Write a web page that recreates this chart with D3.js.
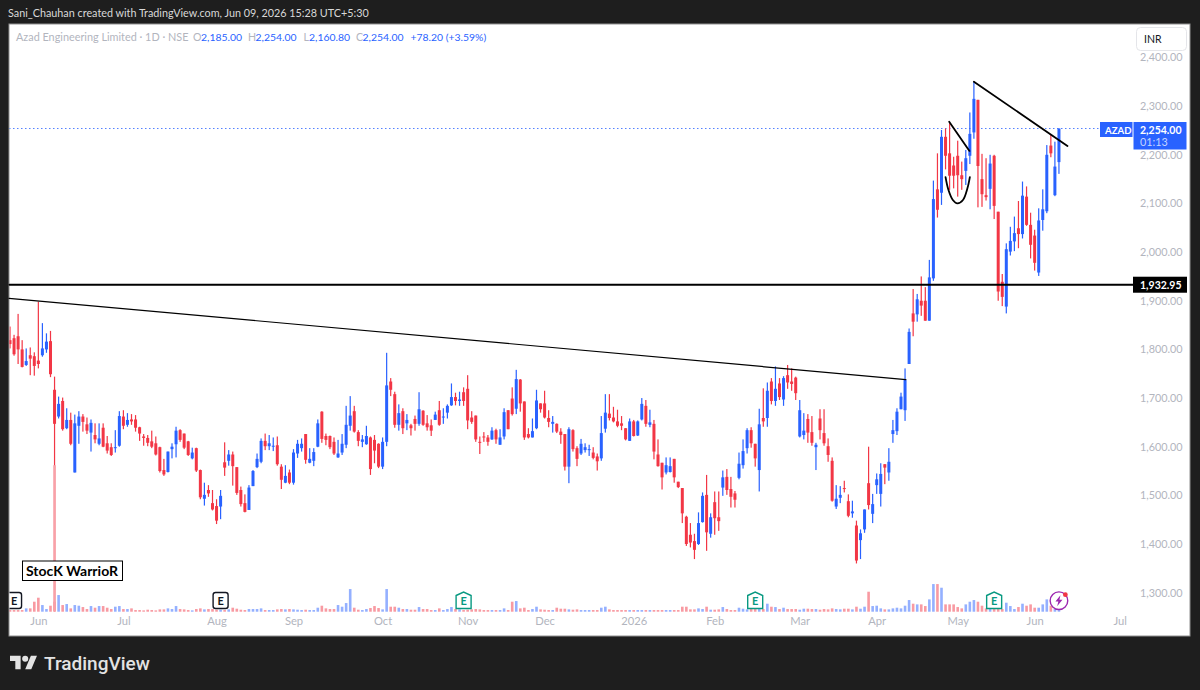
<!DOCTYPE html>
<html>
<head>
<meta charset="utf-8">
<title>AZAD daily candles</title>
<script src="https://cdn.jsdelivr.net/npm/d3@7"></script>
<style>
  html, body { margin: 0; padding: 0; background: #1e1e1e; }
  svg { display: block; }
  text { font-family: Lato, sans-serif; }
</style>
</head>
<body>
<svg id="chart" width="1200" height="690"></svg>
<script>
// Daily OHLC for Azad Engineering (NSE), oldest first
const opens = [
  1819,1823,1827,1800,1768,1788,1786,1777,1788,1800,
  1817,1717,1662,1694,1638,1655,1547,1643,1662,1646,
  1629,1624,1606,1639,1607,1599,1597,1602,1662,1645,
  1656,1656,1640,1621,1618,1611,1607,1599,1552,1548,
  1595,1605,1634,1627,1611,1576,1597,1552,1493,1511,
  1484,1478,1477,1568,1571,1584,1558,1511,1484,1470,
  1519,1558,1569,1612,1601,1600,1603,1559,1526,1547,
  1526,1586,1597,1626,1567,1571,1600,1672,1622,1622,
  1610,1578,1588,1604,1643,1673,1630,1610,1605,1619,
  1614,1606,1559,1610,1734,1708,1645,1673,1648,1644,
  1657,1647,1674,1648,1644,1655,1675,1661,1670,1685,
  1702,1694,1712,1719,1660,1664,1610,1621,1619,1615,
  1634,1604,1621,1675,1699,1678,1738,1693,1626,1619,
  1638,1689,1689,1659,1647,1647,1631,1626,1559,1634,
  1597,1586,1593,1594,1588,1580,1576,1637,1668,1660,
  1652,1648,1638,1612,1652,1623,1656,1684,1645,1647,
  1584,1567,1547,1548,1575,1528,1515,1456,1419,1406,
  1400,1445,1501,1421,1486,1455,1516,1538,1513,1504,
  1536,1562,1597,1634,1606,1552,1659,1659,1734,1694,
  1730,1697,1747,1734,1742,1621,1624,1657,1630,1599,
  1658,1628,1601,1571,1477,1495,1515,1488,1463,1438,
  1408,1430,1525,1462,1521,1503,1564,1547,1626,1632,
  1677,1675,1770,1874,1872,1900,1900,1859,1946,2129,
  2122,2237,2203,2178,2198,2158,2167,2198,2246,2313,
  2150,2117,2130,2198,2083,1939,1888,2001,2022,2049,
  2037,2114,2056,2034,1958,2066,2084,2219,2117,2185
];
const highs = [
  1847,1830,1873,1819,1802,1804,1794,1898,1854,1833,
  1838,1744,1703,1701,1679,1670,1666,1673,1667,1660,
  1656,1648,1648,1648,1622,1607,1634,1673,1675,1669,
  1667,1665,1641,1626,1624,1633,1621,1600,1575,1590,
  1607,1641,1636,1627,1612,1598,1598,1553,1526,1521,
  1511,1492,1511,1609,1593,1590,1558,1518,1502,1521,
  1552,1586,1617,1627,1624,1619,1621,1564,1562,1553,
  1595,1614,1617,1626,1597,1597,1656,1673,1627,1623,
  1619,1614,1626,1684,1704,1684,1634,1624,1643,1621,
  1624,1607,1619,1793,1741,1713,1687,1679,1667,1647,
  1664,1712,1675,1665,1656,1672,1694,1679,1687,1730,
  1711,1713,1722,1747,1673,1664,1621,1630,1624,1640,
  1637,1636,1679,1675,1722,1758,1739,1693,1638,1658,
  1717,1689,1715,1675,1663,1648,1638,1626,1640,1636,
  1601,1616,1607,1604,1599,1586,1663,1708,1708,1682,
  1676,1663,1638,1658,1655,1654,1700,1696,1676,1655,
  1615,1567,1578,1578,1575,1528,1515,1458,1443,1421,
  1465,1506,1542,1463,1508,1508,1551,1554,1538,1509,
  1588,1615,1638,1640,1606,1678,1720,1732,1741,1765,
  1741,1745,1768,1761,1744,1696,1669,1667,1663,1608,
  1677,1677,1617,1578,1521,1519,1530,1502,1489,1448,
  1430,1471,1600,1503,1545,1566,1564,1597,1655,1679,
  1711,1761,1843,1924,1914,1950,1928,1984,2147,2203,
  2251,2254,2265,2196,2229,2186,2210,2287,2350,2313,
  2202,2193,2200,2200,2083,1955,2018,2052,2073,2105,
  2145,2135,2081,2046,2090,2129,2220,2241,2227,2254
];
const lows = [
  1802,1787,1770,1763,1766,1747,1746,1761,1785,1793,
  1743,1262,1658,1633,1636,1603,1547,1606,1631,1626,
  1590,1607,1603,1599,1586,1581,1588,1600,1636,1641,
  1645,1631,1612,1602,1601,1597,1582,1547,1540,1547,
  1576,1578,1610,1595,1581,1574,1548,1492,1479,1497,
  1469,1441,1451,1540,1561,1520,1501,1477,1465,1470,
  1519,1556,1566,1593,1593,1591,1561,1513,1525,1523,
  1522,1577,1590,1565,1566,1560,1599,1608,1603,1595,
  1583,1577,1583,1597,1633,1629,1601,1599,1604,1542,
  1566,1556,1554,1601,1704,1639,1633,1626,1634,1623,
  1633,1643,1643,1633,1622,1655,1643,1647,1658,1684,
  1685,1684,1684,1636,1647,1610,1585,1610,1602,1614,
  1606,1604,1615,1636,1664,1667,1672,1614,1617,1619,
  1636,1670,1658,1640,1629,1628,1606,1551,1525,1590,
  1560,1583,1588,1581,1574,1551,1571,1629,1654,1650,
  1640,1634,1613,1612,1621,1622,1654,1641,1640,1574,
  1559,1512,1543,1547,1526,1515,1443,1396,1393,1369,
  1398,1444,1386,1413,1419,1427,1499,1501,1475,1475,
  1533,1555,1586,1598,1559,1508,1641,1641,1687,1684,
  1696,1684,1719,1715,1696,1619,1615,1608,1602,1552,
  1615,1602,1569,1487,1472,1484,1506,1455,1454,1360,
  1369,1423,1471,1443,1503,1477,1523,1530,1608,1624,
  1677,1653,1770,1827,1857,1869,1859,1859,1941,2071,
  2097,2170,2128,2131,2114,2128,2138,2181,2233,2092,
  2093,2106,2088,2068,1900,1889,1874,1993,2002,2008,
  2028,2054,1987,1962,1951,2044,2080,2195,2115,2160.8
];
const closes = [
  1811,1790,1800,1764,1776,1781,1766,1770,1802,1816,
  1749,1647,1688,1636,1655,1606,1648,1662,1651,1633,
  1649,1615,1617,1600,1592,1583,1599,1663,1643,1655,
  1652,1639,1627,1618,1608,1600,1584,1550,1543,1590,
  1600,1633,1614,1598,1583,1588,1551,1496,1501,1504,
  1471,1448,1499,1557,1584,1560,1505,1482,1466,1516,
  1550,1575,1612,1601,1607,1602,1564,1532,1540,1526,
  1588,1606,1606,1573,1575,1589,1648,1616,1614,1599,
  1586,1586,1606,1645,1664,1631,1612,1615,1622,1554,
  1592,1559,1610,1726,1717,1645,1669,1638,1655,1638,
  1647,1677,1645,1640,1633,1666,1645,1662,1684,1702,
  1694,1697,1694,1654,1651,1615,1608,1619,1610,1633,
  1615,1619,1671,1636,1667,1739,1689,1619,1619,1632,
  1695,1677,1660,1651,1651,1631,1624,1559,1636,1595,
  1575,1606,1599,1595,1577,1570,1628,1670,1659,1652,
  1643,1643,1615,1652,1622,1652,1688,1647,1650,1590,
  1560,1537,1562,1560,1537,1517,1463,1400,1403,1388,
  1443,1499,1424,1455,1453,1447,1537,1511,1497,1491,
  1565,1591,1634,1607,1576,1646,1652,1715,1694,1719,
  1702,1741,1732,1729,1710,1675,1633,1629,1608,1604,
  1634,1607,1583,1489,1493,1501,1514,1458,1467,1366,
  1422,1471,1480,1482,1533,1544,1557,1569,1634,1672,
  1703,1738,1836,1857,1903,1890,1859,1948,2109,2087,
  2237,2198,2157,2157,2158,2150,2193,2243,2315,2177,
  2119,2113,2182,2095,1919,1908,2006,2023,2039,2037,
  2116,2056,2015,1978,2065,2088,2200,2203,2175.8,2254
];
// Relative traded volume per session
const volumes = [
  5,5,5,5,10,10,30,42,20,8,
  18,30,50,20,23,10,20,18,14,8,
  17,12,17,17,12,8,15,17,8,8,
  10,5,5,4,6,5,4,7,7,10,
  8,17,8,7,5,4,8,10,7,8,
  8,6,6,5,7,12,9,6,5,8,
  8,8,10,5,5,5,7,8,7,8,
  7,6,5,6,5,5,12,18,10,8,
  8,20,15,26,68,12,6,5,8,11,
  17,11,7,68,15,15,12,8,8,6,
  6,14,8,8,5,5,10,5,8,14,
  8,7,5,6,7,8,7,5,5,5,
  5,5,10,5,30,32,10,12,5,8,
  15,7,6,5,5,12,9,9,7,6,
  7,5,5,5,5,5,12,15,7,5,
  5,5,5,5,5,5,5,5,5,5,
  5,5,5,5,5,5,15,15,7,7,
  10,8,15,6,6,7,14,8,5,5,
  12,9,7,8,8,8,8,24,15,14,
  8,12,8,8,8,6,9,9,8,8,
  6,8,7,10,8,7,9,9,7,15,
  9,15,60,17,18,10,7,7,10,12,
  10,18,35,24,22,22,17,37,83,83,
  72,22,22,22,14,10,22,30,35,30,
  18,10,8,8,8,8,27,17,8,14,
  24,18,22,12,12,22,37,18,8,5
];
const priceTicks = [1300,1400,1500,1600,1700,1800,1900,2000,2100,2200,2300,2400];
const monthTickIndex = [7,28,51,70,92,113,132,154,174,195,214,234,253,274];
const monthTickLabel = ["Jun","Jul","Aug","Sep","Oct","Nov","Dec","2026","Feb","Mar","Apr","May","Jun","Jul"];

// Hand-drawn annotations in (session index, price)
const supportLevel = 1932.95;
const longTrend = [[-0.25,1905],[221.2,1738]];
const peakTrend = [[238,2350.3],[261.1,2218]];
const shortTrend = [[231.9,2268],[236.9,2208]];
const cupCurve = [[231,2154],[231.7,2128],[232.8,2107],[233.9,2100],[235.3,2107],[236.4,2131],[237,2154]];

// Earnings markers by session index
const pastEarnings = [1,52];
const greenEarnings = [112,184,243];
// Session whose long lower shadow fades out, and the price where it fades
const fadedShadow = {session: 11, from: 1562};
const lastClose = closes[closes.length - 1];

const BLUE = "#2962ff", RED = "#f23645", GREEN = "#089981", AXIS = "#b2b5be";

const svg = d3.select("#chart");
const x = d3.scaleLinear().domain([0,259]).range([10,1058.95]);
const y = d3.scaleLinear().domain([1300,2400]).range([592.65,57.5]);
const v = d3.scaleLinear().domain([0,100]).range([611.7,578.4]);

// Page frame and plot panel
svg.append("rect").attr("width",1200).attr("height",690).attr("fill","#1e1e1e");
svg.append("rect").attr("x",9).attr("y",24).attr("width",1181).attr("height",612)
  .attr("fill","#fff").attr("stroke","#8f8f8f").attr("stroke-width",1);
svg.append("clipPath").attr("id","plot").append("rect")
  .attr("x",9.5).attr("y",24.5).attr("width",1123).attr("height",611);

svg.append("text").attr("x",8).attr("y",16.5).attr("fill","#d8d8d8").attr("font-size",10.8)
  .text("Sani_Chauhan created with TradingView.com, Jun 09, 2026 15:28 UTC+5:30");

const plot = svg.append("g").attr("clip-path","url(#plot)");
const sessions = d3.range(closes.length);
const isUp = i => closes[i] >= opens[i];

// Volume bars along the bottom of the panel
plot.append("g").selectAll("rect").data(sessions).join("rect")
  .attr("x", i => x(i) - 1.3).attr("width", 2.6)
  .attr("y", i => v(volumes[i])).attr("height", i => v(0) - v(volumes[i]))
  .attr("fill", i => isUp(i) ? BLUE : RED).attr("fill-opacity",0.5);

// Last-price dotted guide
const guideY = Math.floor(y(lastClose)) + 0.5;
plot.append("line").attr("x1",9).attr("x2",1100)
  .attr("y1",guideY).attr("y2",guideY)
  .attr("stroke",BLUE).attr("stroke-opacity",0.8).attr("stroke-width",1).attr("stroke-dasharray","1.5 2.5");

// Candles: wick first, then the body
const candles = plot.append("g");
candles.selectAll("rect.wick").data(sessions).join("rect").attr("class","wick")
  .attr("x", i => x(i) - 0.6).attr("width", 1.2)
  .attr("y", i => y(highs[i])).attr("height", i => y(lows[i]) - y(highs[i]))
  .attr("fill", i => isUp(i) ? BLUE : RED);
candles.selectAll("rect.body").data(sessions).join("rect").attr("class","body")
  .attr("x", i => x(i) - 1.5).attr("width", 3)
  .attr("y", i => y(Math.max(opens[i],closes[i])))
  .attr("height", i => Math.max(1, Math.abs(y(opens[i]) - y(closes[i]))))
  .attr("fill", i => isUp(i) ? BLUE : RED);
// Pale lower stretch of the one very long shadow
candles.append("rect")
  .attr("x", x(fadedShadow.session) - 1.3).attr("width", 2.6)
  .attr("y", y(fadedShadow.from)).attr("height", y(lows[fadedShadow.session]) - y(fadedShadow.from))
  .attr("fill", "#f8a1a8");

// Trend lines and the cup drawing
const straight = d3.line().x(d => x(d[0])).y(d => y(d[1]));
const curved = d3.line().x(d => x(d[0])).y(d => y(d[1])).curve(d3.curveCatmullRom);
const drawings = svg.append("g").attr("fill","none").attr("stroke","#000").attr("stroke-linecap","round");
drawings.append("line").attr("x1",9.5).attr("x2",1133)
  .attr("y1",y(supportLevel)).attr("y2",y(supportLevel)).attr("stroke-width",2);
drawings.append("path").attr("d",straight(longTrend)).attr("stroke-width",1.2);
drawings.append("path").attr("d",straight(peakTrend)).attr("stroke-width",1.8);
drawings.append("path").attr("d",straight(shortTrend)).attr("stroke-width",1.8);
drawings.append("path").attr("d",curved(cupCurve)).attr("stroke-width",1.8);

// Price scale on the right
const yAxis = d3.axisRight(y).tickValues(priceTicks).tickFormat(d3.format(",.2f")).tickSize(0).tickPadding(0);
const yG = svg.append("g").attr("transform","translate(1140,0)").call(yAxis);
yG.select(".domain").remove();
yG.selectAll("text").attr("fill",AXIS).attr("font-size",10.8).style("font-family",'Lato, sans-serif');

// Time scale along the bottom
const xAxis = d3.axisBottom(x).tickValues(monthTickIndex)
  .tickFormat((d,i) => monthTickLabel[i]).tickSize(0).tickPadding(0);
const xG = svg.append("g").attr("transform","translate(0,617)").call(xAxis);
xG.select(".domain").remove();
xG.selectAll("text").attr("fill",AXIS).attr("font-size",11.2).style("font-family",'Lato, sans-serif');

// Symbol and OHLC readout
const fmt = d3.format(",.2f");
const readout = [
  {x:16, t:"Azad Engineering Limited · 1D · NSE", c:AXIS, s:10.85},
  {x:193, t:"O", c:AXIS, s:10.6}, {x:201, t:fmt(opens[259]), c:BLUE, s:10.4},
  {x:248, t:"H", c:AXIS, s:10.6}, {x:255.5, t:fmt(highs[259]), c:BLUE, s:10.4},
  {x:303.5, t:"L", c:AXIS, s:10.6}, {x:309, t:fmt(lows[259]), c:BLUE, s:10.4},
  {x:356, t:"C", c:AXIS, s:10.6}, {x:362.5, t:fmt(closes[259]), c:BLUE, s:10.4},
  {x:410.5, t:"+78.20 (+3.59%)", c:BLUE, s:10.4}
];
svg.append("g").selectAll("text").data(readout).join("text")
  .attr("x", d => d.x).attr("y",40.5).attr("font-size", d => d.s).attr("fill", d => d.c).text(d => d.t);

// Currency button
svg.append("rect").attr("x",1136.5).attr("y",27.5).attr("width",50).attr("height",23).attr("rx",4)
  .attr("fill","#fff").attr("stroke","#e4e5e9");
svg.append("text").attr("x",1144).attr("y",43).attr("font-size",10.5).attr("fill","#131722").text("INR");

// Price tags
svg.append("rect").attr("x",1133).attr("y",y(supportLevel)-8).attr("width",54).attr("height",16).attr("fill","#000");
svg.append("text").attr("x",1140).attr("y",y(supportLevel)+4).attr("font-size",10.5).attr("font-weight",700).attr("fill","#fff")
  .text(fmt(supportLevel));
svg.append("rect").attr("x",1100).attr("y",122).attr("width",32.5).attr("height",15).attr("fill",BLUE);
svg.append("text").attr("x",1105).attr("y",133.5).attr("font-size",9.6).attr("font-weight",700).attr("fill","#fff").text("AZAD");
svg.append("rect").attr("x",1133.5).attr("y",122).attr("width",53).attr("height",27.5).attr("fill",BLUE);
svg.append("text").attr("x",1140).attr("y",133.5).attr("font-size",10.5).attr("font-weight",700).attr("fill","#fff").text(fmt(lastClose));
svg.append("text").attr("x",1140).attr("y",145.5).attr("font-size",10.8).attr("fill","#c6d4ff").text("01:13");

// Named watermark
svg.append("rect").attr("x",22.5).attr("y",561).attr("width",100).attr("height",19.5)
  .attr("fill","#fff").attr("stroke","#000").attr("stroke-width",1);
svg.append("text").attr("x",26).attr("y",575.5).attr("font-size",14).attr("font-weight",700).attr("fill","#000")
  .text("StocK WarrioR");

// Earnings markers
const pastG = plot.append("g").selectAll("g").data(pastEarnings).join("g")
  .attr("transform", i => `translate(${x(i)},600.5)`);
pastG.append("rect").attr("x",-7.5).attr("y",-8).attr("width",15).attr("height",16).attr("rx",2.5)
  .attr("fill","#fff").attr("stroke","#131722").attr("stroke-width",1.4);
pastG.append("text").attr("text-anchor","middle").attr("y",4).attr("font-size",11).attr("font-weight",700)
  .attr("fill","#131722").text("E");

const house = "M-7.5,-5 L0,-8.5 L7.5,-5 L7.5,8 L-7.5,8 Z";
const greenG = svg.append("g").selectAll("g").data(greenEarnings).join("g")
  .attr("transform", i => `translate(${x(i)},600.5)`);
greenG.append("path").attr("d",house).attr("fill","#fff").attr("stroke",GREEN).attr("stroke-width",1.4);
greenG.append("text").attr("text-anchor","middle").attr("y",4.5).attr("font-size",11).attr("font-weight",700)
  .attr("fill",GREEN).text("E");

// Dividend/split flash badge on the last session
const flash = svg.append("g").attr("transform",`translate(${x(259)},600.7)`);
flash.append("circle").attr("r",8.8).attr("fill","#fff").attr("stroke","#9c27b0").attr("stroke-width",1.4);
flash.append("path").attr("d","M1.5,-5.5 L-3.5,0.8 L-0.6,0.8 L-1.8,5.5 L3.5,-1 L0.5,-1 Z").attr("fill","#9c27b0");
flash.append("circle").attr("cx",6.4).attr("cy",-6).attr("r",2.4).attr("fill",RED);

// Footer wordmark
const logo = svg.append("g").attr("transform","translate(10,652.6) scale(0.76)").attr("fill","#e3e3e3");
logo.append("path").attr("d","M14 22H7V11H0V4h14v18zM28 22h-8l7.5-18h8L28 22z");
logo.append("circle").attr("cx",20).attr("cy",8).attr("r",4);
svg.append("text").attr("x",44).attr("y",669.5).attr("font-size",19).attr("font-weight",500)
  .style("font-family","Roboto, sans-serif").attr("fill","#e3e3e3").text("TradingView");
</script>
</body>
</html>
